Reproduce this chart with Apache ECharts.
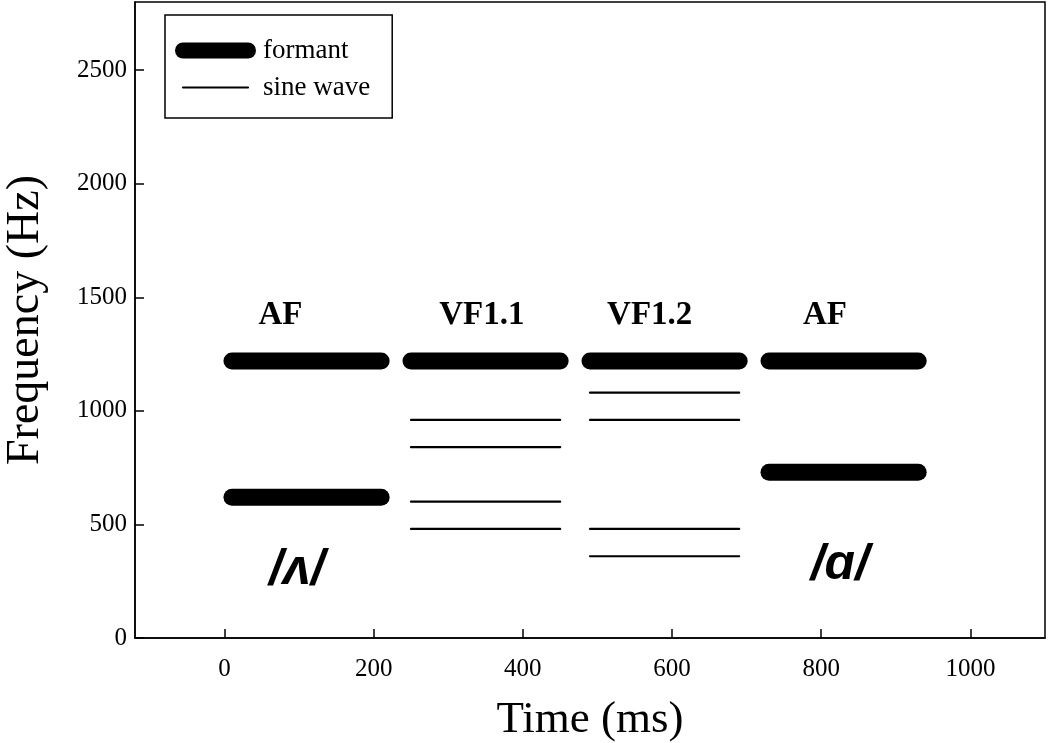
<!DOCTYPE html>
<html>
<head>
<meta charset="utf-8">
<script src="https://cdn.jsdelivr.net/npm/echarts@6/dist/echarts.min.js"></script>
<style>
  html, body { margin: 0; padding: 0; background: #fff; }
  #chart { width: 1050px; height: 743px; }
</style>
</head>
<body>
<div id="chart"></div>
<script>
// segments (ms) and their frequencies (Hz)
const segStart = [10, 250, 490, 730];
const segEnd = [210, 450, 690, 930];
const formantHz = [[1220, 620], [1220], [1220], [1220, 730]];
const sineHz = [[], [960, 840, 600, 480], [1080, 960, 480, 360], []];

// text annotations
const segLabels = ["AF", "VF1.1", "VF1.2", "AF"];
const segLabelX = [75, 345, 570, 805];
const segLabelY = [1420, 1420, 1420, 1420];
const vowelLabels = ["/ʌ/", "/ɑ/"];
const vowelX = [97, 825];
const vowelY = [297, 320];

// axis ticks
const xTicks = [0, 200, 400, 600, 800, 1000];
const yTicks = [0, 500, 1000, 1500, 2000, 2500];

const serif = "Liberation Serif";
const chart = echarts.init(document.getElementById("chart"));

const series = [];
segStart.forEach((s, i) => {
  formantHz[i].forEach((f) => {
    series.push({
      name: "formant",
      type: "line",
      symbol: "none",
      silent: true,
      lineStyle: { color: "#000", width: 17, cap: "round" },
      data: [[s, f], [segEnd[i], f]],
    });
  });
  sineHz[i].forEach((f) => {
    series.push({
      name: "sine wave",
      type: "line",
      symbol: "none",
      silent: true,
      lineStyle: { color: "#000", width: 2.2, cap: "round" },
      data: [[s, f], [segEnd[i], f]],
    });
  });
});

series.push({
  type: "scatter",
  symbolSize: 0,
  silent: true,
  itemStyle: { opacity: 1 },
  data: segLabels.map((t, i) => ({ name: t, value: [segLabelX[i], segLabelY[i]] })),
  label: {
    show: true,
    position: "inside",
    formatter: "{b}",
    fontFamily: serif,
    fontWeight: "bold",
    fontSize: 33,
    color: "#000",
    opacity: 1,
  },
});

series.push({
  type: "scatter",
  symbolSize: 0,
  silent: true,
  itemStyle: { opacity: 1 },
  data: vowelLabels.map((t, i) => ({ name: t, value: [vowelX[i], vowelY[i]] })),
  label: {
    show: true,
    position: "inside",
    formatter: "{b}",
    fontFamily: "Liberation Sans, DejaVu Sans",
    fontWeight: "bold",
    fontStyle: "italic",
    fontSize: 50,
    color: "#000",
    opacity: 1,
  },
});

const option = {
  animation: false,
  grid: {
    left: 135,
    right: 5,
    top: 2,
    bottom: 105,
    outerBoundsMode: "none",
    containLabel: false,
    show: true,
    borderColor: "#000",
    borderWidth: 1.5,
  },
  legend: {
    orient: "vertical",
    left: 165,
    top: 15,
    padding: [22, 22, 17, 10],
    borderColor: "#000",
    borderWidth: 1.5,
    itemWidth: 65,
    itemHeight: 16,
    itemGap: 10,
    selectedMode: false,
    itemStyle: { opacity: 0 },
    textStyle: {
      fontFamily: serif,
      fontSize: 27,
      lineHeight: 26,
      color: "#000",
      padding: [0, 0, 0, 10],
    },
    data: [
      { name: "formant", lineStyle: { width: 16, cap: "round", color: "#000" } },
      { name: "sine wave", lineStyle: { width: 2.2, color: "#000" } },
    ],
  },
  xAxis: {
    type: "value",
    min: -120,
    max: 1100,
    name: "Time (ms)",
    nameLocation: "middle",
    nameGap: 60,
    nameTextStyle: { fontFamily: serif, fontSize: 45, color: "#000" },
    axisLine: { onZero: false, lineStyle: { color: "#000", width: 1.5 } },
    axisTick: { inside: true, length: 9, lineStyle: { color: "#000", width: 1.5 }, customValues: xTicks },
    axisLabel: {
      fontFamily: serif, fontSize: 25, color: "#000", margin: 19,
      customValues: xTicks, formatter: (v) => String(v),
    },
    splitLine: { show: false },
  },
  yAxis: {
    type: "value",
    min: 0,
    max: 2800,
    name: "Frequency (Hz)",
    nameLocation: "middle",
    nameGap: 86,
    nameTextStyle: { fontFamily: serif, fontSize: 46, color: "#000" },
    axisLine: { show: true, onZero: false, lineStyle: { color: "#000", width: 1.5 } },
    axisTick: { show: true, inside: true, length: 9, lineStyle: { color: "#000", width: 1.5 }, customValues: yTicks },
    axisLabel: {
      fontFamily: serif, fontSize: 25, color: "#000", margin: 8,
      customValues: yTicks, formatter: (v) => String(v),
    },
    splitLine: { show: false },
  },
  series: series,
};

chart.setOption(option);
window.addEventListener("resize", () => chart.resize());
</script>
</body>
</html>
